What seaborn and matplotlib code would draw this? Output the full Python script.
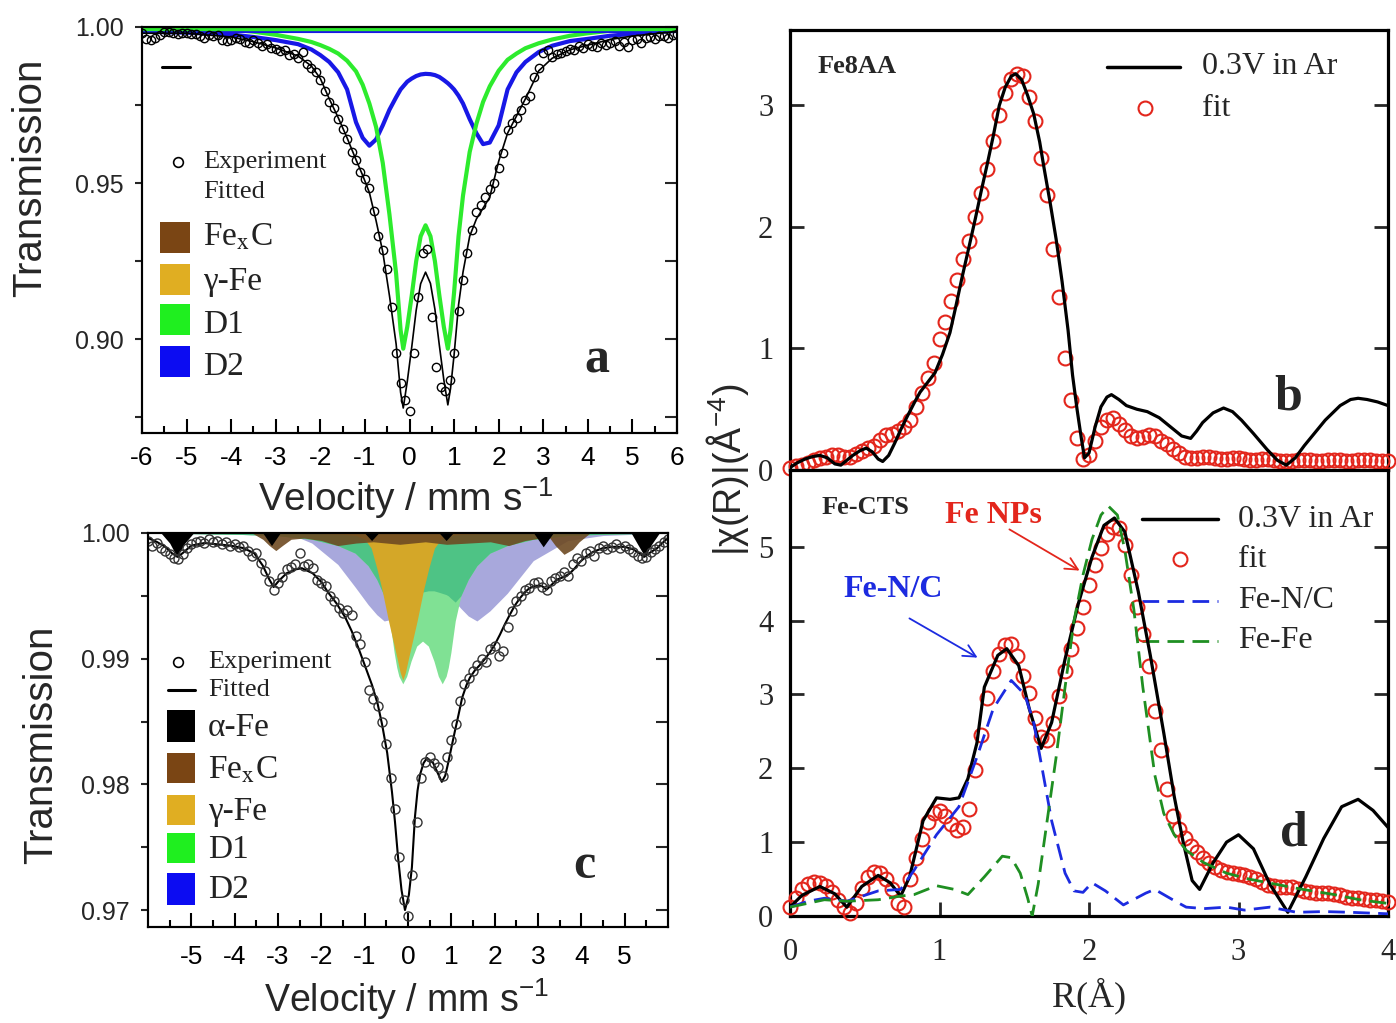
import numpy as np
import matplotlib
matplotlib.use("Agg")
import matplotlib.pyplot as plt
import seaborn as sns
from matplotlib.patches import Rectangle
from matplotlib.lines import Line2D
from matplotlib.ticker import FormatStrFormatter

# ====================== DATA ======================
BASE = 1.0
# ---- panel a (Mossbauer, Fe8AA) ----
va_comp = [-6.0, -5.0, -4.0, -3.5, -3.0, -2.5, -2.2, -2.0, -1.8, -1.6,
           -1.4, -1.2, -1.05, -0.9, -0.75, -0.6, -0.45, -0.3, -0.2, -0.14,
           -0.05, 0.05, 0.15, 0.25, 0.36, 0.47, 0.57, 0.67, 0.77, 0.86,
           0.92, 1.0, 1.1, 1.2, 1.35, 1.5, 1.65, 1.8, 2.0, 2.2,
           2.4, 2.6, 2.9, 3.2, 3.6, 4.0, 4.5, 5.0, 6.0]
d1_a = [0.9999, 0.9998, 0.9992, 0.9985, 0.9975, 0.9962, 0.9952, 0.9942, 0.9930, 0.9915,
        0.9892, 0.9858, 0.9815, 0.9755, 0.9680, 0.9565, 0.9400, 0.9210, 0.9030, 0.8970,
        0.9040, 0.9140, 0.9250, 0.9330, 0.9365, 0.9330, 0.9250, 0.9140, 0.9040, 0.8970,
        0.9030, 0.9150, 0.9330, 0.9460, 0.9600, 0.9690, 0.9760, 0.9810, 0.9860, 0.9895,
        0.9915, 0.9932, 0.9948, 0.9960, 0.9972, 0.9980, 0.9988, 0.9993, 0.9998]
d2_a = [0.9985, 0.9982, 0.9976, 0.9968, 0.9958, 0.9945, 0.9928, 0.9910, 0.9888, 0.9855,
        0.9800, 0.9695, 0.9645, 0.9620, 0.9640, 0.9685, 0.9735, 0.9775, 0.9800, 0.9810,
        0.9825, 0.9835, 0.9843, 0.9848, 0.9850, 0.9849, 0.9846, 0.9840, 0.9830, 0.9820,
        0.9812, 0.9800, 0.9780, 0.9755, 0.9705, 0.9660, 0.9625, 0.9630, 0.9685, 0.9800,
        0.9855, 0.9888, 0.9920, 0.9940, 0.9955, 0.9962, 0.9972, 0.9978, 0.9988]
fit_a = [0.9980, 0.9980, 0.9968, 0.9953, 0.9933, 0.9907, 0.9875, 0.9835, 0.9770, 0.9710,
         0.9645, 0.9575, 0.9525, 0.9470, 0.9380, 0.9280, 0.9140, 0.8985, 0.8830, 0.8780,
         0.8865, 0.8975, 0.9093, 0.9178, 0.9215, 0.9179, 0.9096, 0.8980, 0.8870, 0.8790,
         0.8842, 0.8950, 0.9110, 0.9215, 0.9330, 0.9385, 0.9420, 0.9455, 0.9570, 0.9660,
         0.9715, 0.9770, 0.9860, 0.9900, 0.9927, 0.9942, 0.9960, 0.9971, 0.9986]
va_exp = np.linspace(-6.0, 6.0, 121)
exp_a = [0.9982, 0.9962, 0.9958, 0.9965, 0.9975, 0.9985, 0.9983, 0.9980, 0.9979, 0.9982,
         0.9980, 0.9976, 0.9979, 0.9970, 0.9966, 0.9975, 0.9970, 0.9974, 0.9958, 0.9955,
         0.9958, 0.9966, 0.9962, 0.9952, 0.9950, 0.9957, 0.9948, 0.9940, 0.9944, 0.9932,
         0.9928, 0.9924, 0.9926, 0.9910, 0.9914, 0.9900, 0.9920, 0.9880, 0.9868, 0.9855,
         0.9830, 0.9795, 0.9760, 0.9740, 0.9705, 0.9672, 0.9640, 0.9600, 0.9575, 0.9535,
         0.9512, 0.9485, 0.9410, 0.9330, 0.9285, 0.9225, 0.9105, 0.8955, 0.8860, 0.8805,
         0.8770, 0.8955, 0.9135, 0.9275, 0.9290, 0.9070, 0.8910, 0.8846, 0.8835, 0.8870,
         0.8955, 0.9090, 0.9190, 0.9275, 0.9350, 0.9407, 0.9430, 0.9455, 0.9480, 0.9500,
         0.9550, 0.9596, 0.9670, 0.9692, 0.9710, 0.9734, 0.9766, 0.9780, 0.9840, 0.9870,
         0.9917, 0.9926, 0.9905, 0.9912, 0.9917, 0.9922, 0.9930, 0.9925, 0.9940, 0.9932,
         0.9945, 0.9938, 0.9936, 0.9950, 0.9942, 0.9948, 0.9955, 0.9940, 0.9952, 0.9936,
         0.9958, 0.9962, 0.9950, 0.9965, 0.9968, 0.9960, 0.9972, 0.9970, 0.9965, 0.9975,
         0.9978]

# ---- panel c (Mossbauer, Fe-CTS) ----
vc_fit = [-6.0, -5.8, -5.6, -5.45, -5.32, -5.2, -5.0, -4.7, -4.4, -4.1,
          -3.8, -3.55, -3.35, -3.2, -3.1, -2.98, -2.8, -2.6, -2.45, -2.2,
          -2.0, -1.85, -1.65, -1.45, -1.3, -1.15, -1.0, -0.83, -0.7, -0.6,
          -0.48, -0.37, -0.3, -0.23, -0.15, -0.07, 0.02, 0.09, 0.16, 0.22,
          0.28, 0.36, 0.44, 0.58, 0.7, 0.78, 0.86, 0.92, 1.0, 1.08,
          1.17, 1.25, 1.35, 1.43, 1.55, 1.66, 1.78, 1.89, 2.0, 2.12,
          2.23, 2.35, 2.46, 2.58, 2.7, 2.8, 2.95, 3.08, 3.2, 3.32,
          3.44, 3.6, 3.74, 3.85, 3.97, 4.1, 4.27, 4.5, 4.73, 5.0,
          5.2, 5.33, 5.45, 5.57, 5.75, 5.9, 6.0]
fit_c = [0.9996, 0.9993, 0.9989, 0.9984, 0.9981, 0.9984, 0.9990, 0.9992, 0.9991, 0.9990,
         0.9988, 0.9984, 0.9974, 0.9963, 0.9957, 0.9962, 0.9968, 0.9971, 0.9972, 0.9968,
         0.9961, 0.9953, 0.9944, 0.9933, 0.9922, 0.9909, 0.9895, 0.9879, 0.9864, 0.9848,
         0.9825, 0.9794, 0.9770, 0.9742, 0.9716, 0.9700, 0.9712, 0.9734, 0.9774, 0.9795,
         0.9808, 0.9817, 0.9821, 0.9817, 0.9808, 0.9802, 0.9807, 0.9816, 0.9829, 0.9842,
         0.9856, 0.9869, 0.9879, 0.9885, 0.9891, 0.9895, 0.9900, 0.9905, 0.9911, 0.9919,
         0.9927, 0.9935, 0.9942, 0.9948, 0.9953, 0.9956, 0.9958, 0.9958, 0.9955, 0.9959,
         0.9963, 0.9965, 0.9968, 0.9972, 0.9977, 0.9981, 0.9985, 0.9988, 0.9989, 0.9989,
         0.9987, 0.9984, 0.9981, 0.9984, 0.9988, 0.9993, 0.9996]
vc_exp = np.linspace(-6.0, 6.0, 121)
exp_c = [0.9994, 0.9990, 0.9992, 0.9988, 0.9986, 0.9983, 0.9980, 0.9979, 0.9983, 0.9988,
         0.9991, 0.9993, 0.9994, 0.9992, 0.9995, 0.9993, 0.9994, 0.9991, 0.9993, 0.9990,
         0.9991, 0.9989, 0.9990, 0.9986, 0.9982, 0.9984, 0.9976, 0.9970, 0.9962, 0.9955,
         0.9960, 0.9965, 0.9971, 0.9973, 0.9975, 0.9984, 0.9974, 0.9975, 0.9972, 0.9963,
         0.9960, 0.9958, 0.9950, 0.9946, 0.9940, 0.9936, 0.9939, 0.9935, 0.9918, 0.9912,
         0.9897, 0.9875, 0.9868, 0.9862, 0.9850, 0.9832, 0.9805, 0.9780, 0.9742, 0.9708,
         0.9695, 0.9728, 0.9770, 0.9805, 0.9818, 0.9822, 0.9817, 0.9814, 0.9807, 0.9822,
         0.9835, 0.9848, 0.9866, 0.9880, 0.9885, 0.9890, 0.9895, 0.9900, 0.9897, 0.9908,
         0.9910, 0.9902, 0.9906, 0.9925, 0.9938, 0.9946, 0.9950, 0.9955, 0.9956, 0.9960,
         0.9961, 0.9957, 0.9955, 0.9962, 0.9964, 0.9966, 0.9969, 0.9966, 0.9975, 0.9980,
         0.9978, 0.9984, 0.9986, 0.9982, 0.9988, 0.9990, 0.9987, 0.9989, 0.9991, 0.9988,
         0.9990, 0.9987, 0.9985, 0.9982, 0.9980, 0.9981, 0.9985, 0.9987, 0.9990, 0.9993,
         0.9995]
# doublets D1 / D2 (common grid)
vc_d = [-6.0, -4.0, -3.02, -2.5, -2.22, -1.62, -1.22, -0.92, -0.72, -0.55,
        -0.42, -0.32, -0.26, -0.21, -0.12, -0.03, 0.07, 0.2, 0.335, 0.47,
        0.6, 0.7, 0.79, 0.88, 0.93, 0.99, 1.09, 1.22, 1.39, 1.59,
        1.89, 2.29, 2.89, 3.69, 4.5, 6.0]
d1_c = [1.0000, 0.9999, 0.9998, 0.9996, 0.9995, 0.9990, 0.9984, 0.9974, 0.9963, 0.9950,
        0.9930, 0.9905, 0.9893, 0.9886, 0.9880, 0.9886, 0.9898, 0.9910, 0.9914, 0.9910,
        0.9898, 0.9886, 0.9880, 0.9886, 0.9893, 0.9905, 0.9930, 0.9950, 0.9963, 0.9974,
        0.9984, 0.9990, 0.9995, 0.9998, 0.9999, 1.0000]
d2_c = [1.0000, 0.9999, 0.9998, 0.9996, 0.9992, 0.9975, 0.9957, 0.9943, 0.9935, 0.9930,
        0.9931, 0.9934, 0.9936, 0.9938, 0.9941, 0.9945, 0.9948, 0.9951, 0.9953, 0.9954,
        0.9954, 0.9953, 0.9952, 0.9951, 0.9950, 0.9948, 0.9945, 0.9940, 0.9934, 0.9930,
        0.9938, 0.9952, 0.9978, 0.9994, 0.9998, 1.0000]
# gamma-Fe singlet
vc_g = [-2.0, -1.5, -1.2, -1.0, -0.85, -0.72, -0.6, -0.45, -0.35, -0.25,
        -0.18, -0.12, -0.06, 0.01, 0.11, 0.21, 0.36, 0.48, 0.61, 0.76,
        0.96, 1.26, 1.76]
gam_c = [0.99995, 0.9999, 0.9998, 0.9995, 0.9988, 0.9972, 0.9955, 0.9930, 0.9915, 0.9900,
         0.9889, 0.9883, 0.9889, 0.9900, 0.9915, 0.9930, 0.9955, 0.9972, 0.9988, 0.9995,
         0.9998, 0.9999, 0.99995]
# Fe_xC sextet
vc_fexc = [-3.6, -3.35, -3.2, -3.05, -2.9, -2.7, -2.4, -2.0, -1.62, -1.2,
           -0.8, -0.19, 0.4, 0.89, 1.4, 1.9, 2.32, 2.7, 3.25, 3.4,
           3.6, 3.8, 3.95, 4.2]
fexc_c = [1.0, 0.9995, 0.9990, 0.9986, 0.9990, 0.9995, 0.9996, 0.9994, 0.9990, 0.9992,
          0.9993, 0.9991, 0.9993, 0.9991, 0.9992, 0.9993, 0.9990, 0.9994, 0.9997, 0.9990,
          0.9983, 0.9987, 0.9993, 1.0]
# alpha-Fe sextet
vc_alpha = [-5.7, -5.5, -5.33, -5.15, -4.95, -3.35, -3.15, -2.95, -1.0, -0.84,
            -0.68, 0.72, 0.88, 1.04, 2.9, 3.12, 3.35, 5.15, 5.3, 5.47,
            5.62, 5.8]
alpha_c = [1.0, 0.9992, 0.9981, 0.9992, 1.0, 1.0, 0.9990, 1.0, 1.0, 0.9994,
           1.0, 1.0, 0.9994, 1.0, 1.0, 0.9989, 1.0, 1.0, 0.9991, 0.9981,
           0.9991, 1.0]

# ---- panel b (EXAFS Fe8AA) ----
Rb_line = [0.00, 0.05, 0.10, 0.15, 0.20, 0.25, 0.30, 0.34, 0.38, 0.42,
           0.47, 0.51, 0.55, 0.59, 0.62, 0.66, 0.70, 0.74, 0.78, 0.83,
           0.87, 0.92, 0.97, 1.02, 1.07, 1.11, 1.15, 1.20, 1.24, 1.28,
           1.32, 1.36, 1.40, 1.44, 1.48, 1.51, 1.55, 1.59, 1.63, 1.67,
           1.70, 1.74, 1.78, 1.82, 1.86, 1.89, 1.92, 1.95, 1.97, 2.00,
           2.04, 2.08, 2.12, 2.15, 2.20, 2.25, 2.32, 2.39, 2.47, 2.55,
           2.62, 2.68, 2.72, 2.76, 2.83, 2.90, 2.96, 3.02, 3.10, 3.19,
           3.26, 3.32, 3.38, 3.44, 3.50, 3.58, 3.68, 3.75, 3.80, 3.86,
           3.93, 4.00]
b_line = [0.02, 0.06, 0.09, 0.11, 0.12, 0.10, 0.05, 0.04, 0.08, 0.12,
          0.16, 0.18, 0.15, 0.09, 0.07, 0.12, 0.22, 0.33, 0.43, 0.55,
          0.64, 0.72, 0.80, 0.95, 1.13, 1.35, 1.58, 1.85, 2.07, 2.30,
          2.52, 2.75, 3.00, 3.15, 3.24, 3.26, 3.21, 3.08, 2.93, 2.70,
          2.48, 2.20, 1.90, 1.55, 1.15, 0.78, 0.50, 0.25, 0.10, 0.14,
          0.35, 0.52, 0.60, 0.62, 0.58, 0.53, 0.50, 0.48, 0.43, 0.35,
          0.28, 0.26, 0.32, 0.39, 0.47, 0.51, 0.48, 0.41, 0.30, 0.17,
          0.08, 0.04, 0.10, 0.20, 0.29, 0.41, 0.53, 0.58, 0.59, 0.58,
          0.56, 0.53]
R_fit = np.linspace(0.0, 4.0, 101)
b_fit = [0.02, 0.03, 0.04, 0.06, 0.08, 0.10, 0.11, 0.12, 0.12, 0.11,
         0.11, 0.13, 0.16, 0.18, 0.20, 0.25, 0.29, 0.30, 0.32, 0.35,
         0.41, 0.52, 0.63, 0.76, 0.88, 1.08, 1.22, 1.39, 1.56, 1.74,
         1.88, 2.08, 2.28, 2.48, 2.71, 2.92, 3.10, 3.22, 3.26, 3.24,
         3.07, 2.87, 2.57, 2.26, 1.82, 1.42, 0.92, 0.58, 0.26, 0.09,
         0.12, 0.24, 0.35, 0.41, 0.43, 0.38, 0.33, 0.28, 0.26, 0.27,
         0.29, 0.28, 0.24, 0.21, 0.17, 0.14, 0.11, 0.10, 0.10, 0.11,
         0.11, 0.10, 0.09, 0.09, 0.10, 0.10, 0.09, 0.08, 0.08, 0.09,
         0.09, 0.08, 0.07, 0.07, 0.07, 0.08, 0.08, 0.08, 0.07, 0.07,
         0.08, 0.08, 0.08, 0.07, 0.07, 0.08, 0.08, 0.08, 0.07, 0.07,
         0.07]

# ---- panel d (EXAFS Fe-CTS) ----
Rd_line = [0.0, 0.08, 0.2, 0.3, 0.38, 0.48, 0.59, 0.67, 0.74, 0.8,
           0.89, 0.98, 1.07, 1.13, 1.19, 1.25, 1.3, 1.39, 1.45, 1.53,
           1.6, 1.68, 1.75, 1.84, 1.93, 2.02, 2.1, 2.17, 2.24, 2.33,
           2.41, 2.5, 2.57, 2.63, 2.69, 2.74, 2.83, 2.92, 3.0, 3.1,
           3.21, 3.33, 3.45, 3.57, 3.69, 3.8, 3.9, 4.0]
d_line = [0.12, 0.28, 0.40, 0.30, 0.12, 0.40, 0.55, 0.45, 0.27, 0.53,
          1.29, 1.60, 1.58, 1.60, 1.86, 2.34, 3.10, 3.53, 3.62, 3.39,
          2.81, 2.27, 2.62, 3.48, 4.24, 4.86, 5.29, 5.39, 5.20, 4.39,
          3.53, 2.48, 1.62, 1.00, 0.48, 0.36, 0.72, 1.00, 1.10, 0.91,
          0.43, 0.05, 0.53, 1.05, 1.48, 1.58, 1.43, 1.20]
d_fit = [0.12, 0.25, 0.36, 0.43, 0.46, 0.45, 0.41, 0.33, 0.22, 0.12,
         0.04, 0.18, 0.38, 0.53, 0.60, 0.58, 0.50, 0.36, 0.18, 0.12,
         0.50, 0.78, 1.04, 1.27, 1.40, 1.42, 1.35, 1.25, 1.16, 1.20,
         1.45, 1.98, 2.45, 2.95, 3.32, 3.55, 3.67, 3.68, 3.52, 3.25,
         3.02, 2.68, 2.42, 2.38, 2.62, 2.98, 3.32, 3.62, 3.90, 4.18,
         4.48, 4.76, 4.98, 5.17, 5.27, 5.26, 5.02, 4.62, 4.18, 3.82,
         3.38, 2.78, 2.25, 1.72, 1.35, 1.18, 1.05, 0.95, 0.86, 0.78,
         0.72, 0.66, 0.62, 0.60, 0.58, 0.57, 0.55, 0.53, 0.50, 0.46,
         0.42, 0.40, 0.39, 0.39, 0.39, 0.37, 0.34, 0.32, 0.31, 0.31,
         0.31, 0.30, 0.28, 0.26, 0.25, 0.24, 0.23, 0.22, 0.21, 0.20,
         0.19]
Rd_nc = [0.0, 0.12, 0.23, 0.38, 0.5, 0.59, 0.74, 0.83, 0.98, 1.13,
         1.25, 1.36, 1.48, 1.57, 1.63, 1.69, 1.75, 1.84, 1.9, 1.96,
         2.02, 2.11, 2.23, 2.38, 2.44, 2.56, 2.65, 2.77, 2.92, 3.04,
         3.21, 3.39, 3.57, 3.75, 4.0]
nc_d = [0.12, 0.20, 0.24, 0.20, 0.28, 0.34, 0.36, 0.62, 1.10, 1.48,
        2.15, 2.81, 3.19, 3.00, 2.62, 1.96, 1.29, 0.58, 0.34, 0.32,
        0.45, 0.34, 0.15, 0.31, 0.36, 0.22, 0.12, 0.10, 0.12, 0.08,
        0.12, 0.05, 0.06, 0.05, 0.03]
Rd_ff = [0.0, 0.23, 0.38, 0.59, 0.74, 0.83, 0.98, 1.1, 1.19, 1.3,
         1.42, 1.48, 1.54, 1.59, 1.62, 1.66, 1.72, 1.78, 1.84, 1.9,
         1.96, 2.02, 2.08, 2.13, 2.19, 2.24, 2.3, 2.36, 2.44, 2.5,
         2.57, 2.65, 2.77, 2.92, 3.07, 3.25, 3.43, 3.64, 3.81, 4.0]
ff_d = [0.12, 0.22, 0.20, 0.22, 0.27, 0.29, 0.41, 0.36, 0.29, 0.53,
        0.81, 0.79, 0.58, 0.24, 0.00, 0.43, 1.29, 2.15, 3.10, 4.00,
        4.62, 5.10, 5.43, 5.55, 5.43, 4.95, 4.15, 3.10, 1.91, 1.39,
        1.10, 0.89, 0.72, 0.58, 0.50, 0.43, 0.36, 0.29, 0.22, 0.17]

# tick values / labels
xt_a = [-6, -5, -4, -3, -2, -1, 0, 1, 2, 3, 4, 5, 6]
xtm_a = [-5.5, -4.5, -3.5, -2.5, -1.5, -0.5, 0.5, 1.5, 2.5, 3.5, 4.5, 5.5]
yt_a = [0.90, 0.95, 1.00]
ytm_a = [0.875, 0.925, 0.975]
xt_c = [-5, -4, -3, -2, -1, 0, 1, 2, 3, 4, 5]
xtm_c = [-5.5, -4.5, -3.5, -2.5, -1.5, -0.5, 0.5, 1.5, 2.5, 3.5, 4.5, 5.5]
yt_c = [0.97, 0.98, 0.99, 1.00]
ytm_c = [0.975, 0.985, 0.995]
yt_b = [0, 1, 2, 3]
yt_d = [0, 1, 2, 3, 4, 5]
xt_d = [0, 1, 2, 3, 4]

legend_a = ["Fe$_{\\rm x}$C", "\u03b3-Fe", "D1", "D2"]
legend_c = ["\u03b1-Fe", "Fe$_{\\rm x}$C", "\u03b3-Fe", "D1", "D2"]

# ====================== STYLE ======================
sns.set_style("ticks")
plt.rcParams.update({
    'font.family': ['Liberation Sans', 'DejaVu Sans'],
    'axes.unicode_minus': False,
    'mathtext.fontset': 'custom',
    'mathtext.rm': 'Liberation Sans',
    'mathtext.it': 'Liberation Sans:italic',
    'mathtext.bf': 'Liberation Sans:bold',
    'axes.linewidth': 1.5,
    'axes.edgecolor': 'black',
})
SERIF = ['Liberation Serif', 'DejaVu Serif']
SANS = ['Liberation Sans', 'DejaVu Sans']

GREEN_A = '#2DEB2D'
BLUE_A = '#1818E6'
SQ_FEXC = '#7A4514'
SQ_GAMMA = '#E0AE22'
SQ_D1 = '#1FEF1F'
SQ_D2 = '#0C0CF2'
LAV = '#A8A8DC'
LGREEN = '#80E194'
MGREEN = '#4EC385'
GOLD = '#D4A728'
BROWN = '#6E4A22'
RED = '#E3261C'
BLUE_D = '#1C2BE0'
GREEN_D = '#1F8F22'
TXT = '#222222'

W, H = 1396, 1023
fig = plt.figure(figsize=(W / 100, H / 100), dpi=100)
fig.patch.set_facecolor('white')


def add_ax(l, t, r, b):
    return fig.add_axes([l / W, 1 - b / H, (r - l) / W, (b - t) / H])


ax_a = add_ax(142, 27, 677, 433)
ax_c = add_ax(148, 533, 668, 927)
ax_b = add_ax(790, 30, 1388, 470)
ax_d = add_ax(790, 470, 1388, 916)


def line(ax, x, y, **kw):
    sns.lineplot(x=x, y=y, ax=ax, estimator=None, sort=False, errorbar=None,
                 legend=False, **kw)


def pts(ax, x, y, color, ms, mew, **kw):
    sns.lineplot(x=x, y=y, ax=ax, estimator=None, sort=False, errorbar=None,
                 legend=False, linestyle='none', marker='o', markersize=ms,
                 markerfacecolor='none', markeredgecolor=color,
                 markeredgewidth=mew, **kw)


# ====================== PANEL A ======================
line(ax_a, va_comp, d2_a, color=BLUE_A, lw=3.0, zorder=2)
line(ax_a, va_comp, d1_a, color=GREEN_A, lw=3.0, zorder=2.1)
ax_a.axhline(BASE, color=BLUE_A, lw=8, zorder=2.2)
ax_a.axhline(BASE, color=GREEN_A, lw=6, zorder=2.3)
line(ax_a, va_comp, fit_a, color='k', lw=1.2, zorder=3)
pts(ax_a, va_exp, exp_a, 'k', 6, 1.0, zorder=4)

ax_a.set_xlim(-6, 6)
ax_a.set_ylim(0.870, 1.0)


def left_axes_style(ax, xt, xtm, yt, ytm):
    ax.set_xticks(xt, labels=[str(t) for t in xt])
    ax.set_xticks(xtm, minor=True)
    ax.set_yticks(yt)
    ax.set_yticks(ytm, minor=True)
    ax.yaxis.set_major_formatter(FormatStrFormatter('%.2f'))
    ax.tick_params(axis='x', which='both', direction='in', top=False, bottom=True,
                   width=1.5, colors='k')
    ax.tick_params(axis='x', which='major', length=10, labelsize=19, pad=9)
    ax.tick_params(axis='x', which='minor', length=5)
    ax.tick_params(axis='y', which='both', direction='out', left=True, right=False,
                   width=1.5, length=5)
    ax.tick_params(axis='y', which='major', labelsize=18, pad=8)
    for s in ax.spines.values():
        s.set_linewidth(1.5)
        s.set_color('k')
    tw = ax.twinx()
    tw.set_ylim(ax.get_ylim())
    tw.set_yticks(yt)
    tw.set_yticks(ytm, minor=True)
    tw.tick_params(axis='y', which='both', direction='in', length=9, width=1.5,
                   labelright=False, right=True)
    for s in tw.spines.values():
        s.set_linewidth(1.5)
        s.set_color('k')
    return tw


left_axes_style(ax_a, xt_a, xtm_a, yt_a, ytm_a)

# legend a (manual, as in the original)
tA = ax_a.transAxes
ax_a.add_line(Line2D([0.037, 0.090], [0.901, 0.901], transform=tA, color='k', lw=2.2))
ax_a.plot([0.0673], [0.6675], 'o', transform=tA, mfc='none', mec='k', ms=7, mew=1.2)
ax_a.text(0.114, 0.6675, "Experiment", transform=tA, fontsize=19, family=SERIF,
          va='center', ha='left', color=TXT)
ax_a.text(0.114, 0.5936, "Fitted", transform=tA, fontsize=19, family=SERIF,
          va='center', ha='left', color=TXT)
sq_a_cols = [SQ_FEXC, SQ_GAMMA, SQ_D1, SQ_D2]
sq_a_bot = [0.4433, 0.3400, 0.2414, 0.1379]
lab_a_y = [0.4828, 0.3720, 0.2660, 0.1626]
for c, b0, ly, lab in zip(sq_a_cols, sq_a_bot, lab_a_y, legend_a):
    ax_a.add_patch(Rectangle((0.0336, b0), 0.0561, 0.0764, transform=tA,
                             facecolor=c, edgecolor='none', zorder=5))
    ax_a.text(0.114, ly, lab, transform=tA, fontsize=24, family=SERIF,
              math_fontfamily='stix', va='center', ha='left', color=TXT)
ax_a.text(0.8505, 0.1798, "a", transform=tA, fontsize=36, fontweight='bold',
          family=SERIF, ha='center', va='center')

# ====================== PANEL C ======================
d1c = np.array(d1_c)
d2c = np.array(d2_c)
ax_c.fill_between(vc_d, d2c, BASE, color=LAV, lw=0, zorder=1)
ax_c.fill_between(vc_d, d1c, BASE, color=LGREEN, lw=0, zorder=1.1)
ax_c.fill_between(vc_d, np.maximum(d1c, d2c), BASE, color=MGREEN, lw=0, zorder=1.2)
ax_c.fill_between(vc_g, gam_c, BASE, color=GOLD, lw=0, zorder=1.3)
ax_c.fill_between(vc_fexc, fexc_c, BASE, color=BROWN, lw=0, zorder=1.4, alpha=0.9)
ax_c.fill_between(vc_alpha, alpha_c, BASE, color='black', lw=0, zorder=1.5)
line(ax_c, vc_fit, fit_c, color='k', lw=1.5, zorder=3)
pts(ax_c, vc_exp, exp_c, '#333333', 6.5, 1.0, zorder=4)

ax_c.set_xlim(-6, 6)
ax_c.set_ylim(0.96865, 1.0)
left_axes_style(ax_c, xt_c, xtm_c, yt_c, ytm_c)
ax_c.tick_params(axis='x', which='major', pad=13)

tC = ax_c.transAxes
ax_c.plot([0.0577], [0.6726], 'o', transform=tC, mfc='none', mec='k', ms=7, mew=1.2)
ax_c.text(0.1154, 0.6726, "Experiment", transform=tC, fontsize=19, family=SERIF,
          va='center', ha='left', color=TXT)
ax_c.add_line(Line2D([0.0385, 0.0904], [0.6015, 0.6015], transform=tC, color='k', lw=2.2))
ax_c.text(0.1154, 0.6015, "Fitted", transform=tC, fontsize=19, family=SERIF,
          va='center', ha='left', color=TXT)
sq_c_cols = ['black', SQ_FEXC, SQ_GAMMA, SQ_D1, SQ_D2]
sq_c_bot = [0.4695, 0.3655, 0.2589, 0.1624, 0.0558]
sq_c_h = [0.0812, 0.0761, 0.0761, 0.0761, 0.0812]
lab_c_y = [0.5050, 0.3985, 0.2919, 0.1954, 0.0939]
for c, b0, hh, ly, lab in zip(sq_c_cols, sq_c_bot, sq_c_h, lab_c_y, legend_c):
    ax_c.add_patch(Rectangle((0.0365, b0), 0.0538, hh, transform=tC,
                             facecolor=c, edgecolor='none', zorder=5))
    ax_c.text(0.1154, ly, lab, transform=tC, fontsize=24, family=SERIF,
              math_fontfamily='stix', va='center', ha='left', color=TXT)
ax_c.text(0.8385, 0.1548, "c", transform=tC, fontsize=36, fontweight='bold',
          family=SERIF, ha='center', va='center')

# axis labels left
fig.text(30 / W, 1 - 178 / H, "Transmission", rotation=90, ha='center', va='center',
         fontsize=29, family=SANS)
fig.text(41 / W, 1 - 745 / H, "Transmission", rotation=90, ha='center', va='center',
         fontsize=29, family=SANS)
fig.text(406 / W, 1 - 498 / H, "Velocity / mm s$^{-1}$", ha='center', va='center',
         fontsize=28, family=SANS)
fig.text(407 / W, 1 - 999 / H, "Velocity / mm s$^{-1}$", ha='center', va='center',
         fontsize=27, family=SANS)

# ====================== PANEL B ======================
pts(ax_b, R_fit, b_fit, RED, 10, 1.5, zorder=3, clip_on=False)
line(ax_b, Rb_line, b_line, color='k', lw=2.3, zorder=4)
ax_b.set_xlim(0, 4)
ax_b.set_ylim(0, 3.62)
ax_b.set_xticks(xt_d)
ax_b.tick_params(axis='x', bottom=False, top=False, labelbottom=False)
ax_b.set_yticks(yt_b, labels=[str(t) for t in yt_b], fontfamily=SERIF, fontsize=22)
ax_b.tick_params(axis='y', direction='in', left=True, right=True, length=10,
                 width=2, pad=12)
for s in ax_b.spines.values():
    s.set_linewidth(2.3)
tB = ax_b.transAxes
ax_b.text(0.112, 0.918, "Fe8AA", transform=tB, fontsize=19, fontweight='bold',
          family=SERIF, ha='center', va='center')
ax_b.add_line(Line2D([0.530, 0.652], [0.916, 0.916], transform=tB, color='k', lw=2.5))
ax_b.text(0.689, 0.916, "0.3V in Ar", transform=tB, fontsize=23, family=SERIF,
          ha='left', va='center')
ax_b.plot([0.5936], [0.8227], 'o', transform=tB, mfc='none', mec=RED, ms=10, mew=1.5)
ax_b.text(0.689, 0.8227, "fit", transform=tB, fontsize=23, family=SERIF,
          ha='left', va='center')
ax_b.text(0.8328, 0.1659, "b", transform=tB, fontsize=36, fontweight='bold',
          family=SERIF, ha='center', va='center')

# ====================== PANEL D ======================
pts(ax_d, R_fit, d_fit, RED, 10, 1.5, zorder=3, clip_on=False)
line(ax_d, Rd_line, d_line, color='k', lw=2.3, zorder=4)
line(ax_d, Rd_nc, nc_d, color=BLUE_D, lw=2.0, linestyle=(0, (6, 3)), zorder=5)
line(ax_d, Rd_ff, ff_d, color=GREEN_D, lw=2.0, linestyle=(0, (6, 3)), zorder=5)
ax_d.set_xlim(0, 4)
ax_d.set_ylim(0, 6.04)
ax_d.set_xticks(xt_d, labels=[str(t) for t in xt_d], fontfamily=SERIF, fontsize=22)
ax_d.set_yticks(yt_d, labels=[str(t) for t in yt_d], fontfamily=SERIF, fontsize=22)
ax_d.tick_params(axis='x', direction='in', bottom=True, top=False, length=10,
                 width=2, pad=16)
ax_d.tick_params(axis='y', direction='in', left=True, right=True, length=10,
                 width=2, pad=12)
for s in ax_d.spines.values():
    s.set_linewidth(2.3)
tD = ax_d.transAxes
ax_d.text(0.1254, 0.917, "Fe-CTS", transform=tD, fontsize=19, fontweight='bold',
          family=SERIF, ha='center', va='center')
ax_d.text(0.341, 0.899, "Fe NPs", transform=tD, fontsize=23, fontweight='bold',
          family=SERIF, ha='center', va='center', color=RED)
ax_d.text(0.172, 0.731, "Fe-N/C", transform=tD, fontsize=23, fontweight='bold',
          family=SERIF, ha='center', va='center', color=BLUE_D)
ax_d.annotate("", xy=(0.4883, 0.7713), xytext=(0.3629, 0.870), xycoords=tD,
              textcoords=tD, arrowprops=dict(arrowstyle='->', color=RED, lw=1.3,
                                             mutation_scale=22))
ax_d.annotate("", xy=(0.3177, 0.5762), xytext=(0.1957, 0.6704), xycoords=tD,
              textcoords=tD, arrowprops=dict(arrowstyle='->', color=BLUE_D, lw=1.3,
                                             mutation_scale=22))
leg_y = [0.890, 0.8004, 0.7063, 0.6166]
ax_d.add_line(Line2D([0.5886, 0.7157], [leg_y[0]] * 2, transform=tD, color='k', lw=2.5))
ax_d.plot([0.652], [leg_y[1]], 'o', transform=tD, mfc='none', mec=RED, ms=10, mew=1.5)
ax_d.add_line(Line2D([0.5886, 0.7157], [leg_y[2]] * 2, transform=tD, color=BLUE_D,
                     lw=2.0, linestyle=(0, (6, 3))))
ax_d.add_line(Line2D([0.5886, 0.7157], [leg_y[3]] * 2, transform=tD, color=GREEN_D,
                     lw=2.0, linestyle=(0, (6, 3))))
for yy, lab in zip(leg_y, ["0.3V in Ar", "fit", "Fe-N/C", "Fe-Fe"]):
    ax_d.text(0.749, yy, lab, transform=tD, fontsize=23, family=SERIF,
              ha='left', va='center')
ax_d.text(0.843, 0.186, "d", transform=tD, fontsize=36, fontweight='bold',
          family=SERIF, ha='center', va='center')

fig.text(728 / W, 1 - 470 / H, "|\u03c7(R)|(\u00c5$^{-4}$)", rotation=90,
         ha='center', va='center', fontsize=27, family=SANS)
fig.text(1089 / W, 1 - 996 / H, "R(\u00c5)", ha='center', va='center',
         fontsize=26, family=SERIF)

fig.savefig("out.png", dpi=100)
